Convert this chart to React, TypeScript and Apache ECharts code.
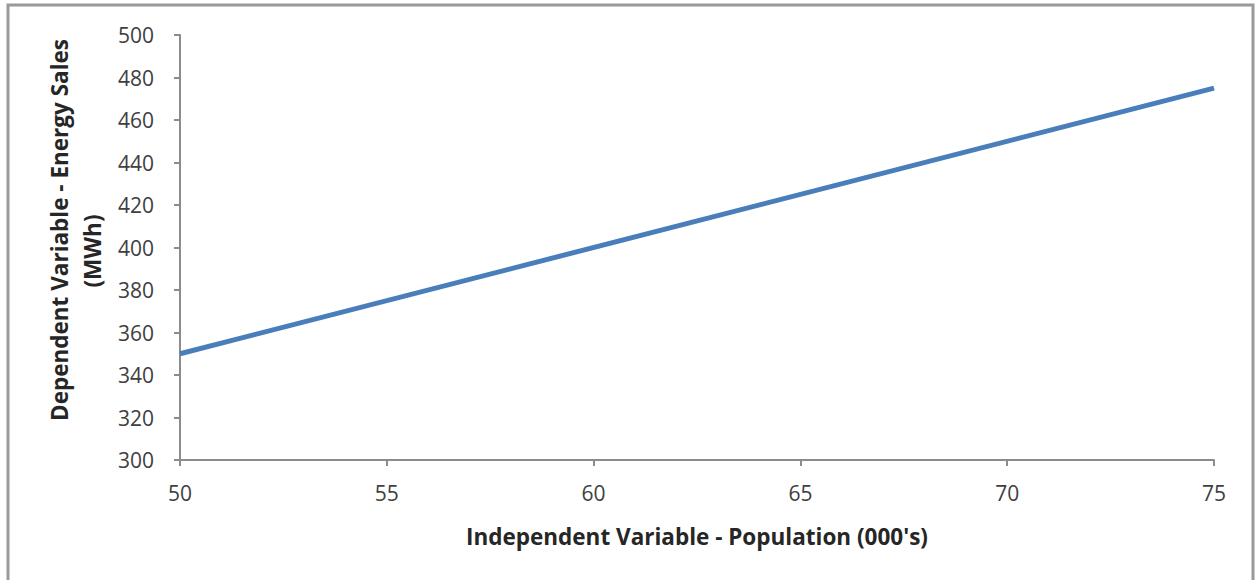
import React, { useEffect, useRef } from "react";
import * as echarts from "echarts";

// Regression line: population (000's) vs energy sales (MWh)
const population = [50, 75];
const energySales = [350, 475];

const xTicks = { min: 50, max: 75, interval: 5 };
const yTicks = { min: 300, max: 500, interval: 20 };

const xName = "Independent Variable - Population (000's)";
const yNameLines = ["Dependent Variable - Energy Sales", "(MWh)"];

export default function App() {
  const ref = useRef<HTMLDivElement>(null);

  useEffect(() => {
    if (!ref.current) return;
    const chart = echarts.init(ref.current, null, { renderer: "svg" });
    const font = "'Open Sans', 'Noto Sans', sans-serif";
    const nameStyle = {
      fontFamily: font,
      fontSize: 22.5,
      fontWeight: "bold",
      fill: "#262626",
      align: "center",
      verticalAlign: "middle",
    };
    chart.setOption({
      animation: false,
      backgroundColor: "#ffffff",
      grid: { left: 180, right: 41, top: 35, bottom: 120 },
      graphic: [
        {
          type: "rect",
          shape: { x: 8, y: 5, width: 1245, height: 600 },
          style: { fill: "none", stroke: "#9a9a9a", lineWidth: 3 },
          silent: true,
        },
        // two-line vertical title of the value axis
        {
          type: "text",
          x: 59,
          y: 230,
          rotation: Math.PI / 2,
          style: { text: yNameLines[0], ...nameStyle },
          silent: true,
        },
        {
          type: "text",
          x: 92,
          y: 251,
          rotation: Math.PI / 2,
          style: { text: yNameLines[1], ...nameStyle },
          silent: true,
        },
      ],
      xAxis: {
        type: "value",
        min: xTicks.min,
        max: xTicks.max,
        interval: xTicks.interval,
        name: xName,
        nameLocation: "middle",
        nameGap: 65,
        nameTextStyle: { fontFamily: font, fontSize: 22.5, fontWeight: "bold", color: "#262626" },
        axisLine: { lineStyle: { color: "#8c8c8c", width: 2 } },
        axisTick: { length: 6, lineStyle: { color: "#8c8c8c", width: 2 } },
        axisLabel: { fontFamily: font, fontSize: 21, color: "#404040", margin: 22 },
        splitLine: { show: false },
      },
      yAxis: {
        type: "value",
        min: yTicks.min,
        max: yTicks.max,
        interval: yTicks.interval,
        axisLine: { show: true, lineStyle: { color: "#8c8c8c", width: 2 } },
        axisTick: { show: true, length: 6, lineStyle: { color: "#8c8c8c", width: 2 } },
        axisLabel: { fontFamily: font, fontSize: 21, color: "#404040", margin: 26 },
        splitLine: { show: false },
      },
      series: [
        {
          type: "line",
          data: population.map((p, i) => [p, energySales[i]]),
          symbol: "none",
          lineStyle: { color: "#4a7ebb", width: 5 },
        },
      ],
    });
    return () => chart.dispose();
  }, []);

  return (
    <div
      ref={ref}
      style={{ position: "fixed", left: 0, top: 0, width: 1255, height: 580 }}
    />
  );
}
